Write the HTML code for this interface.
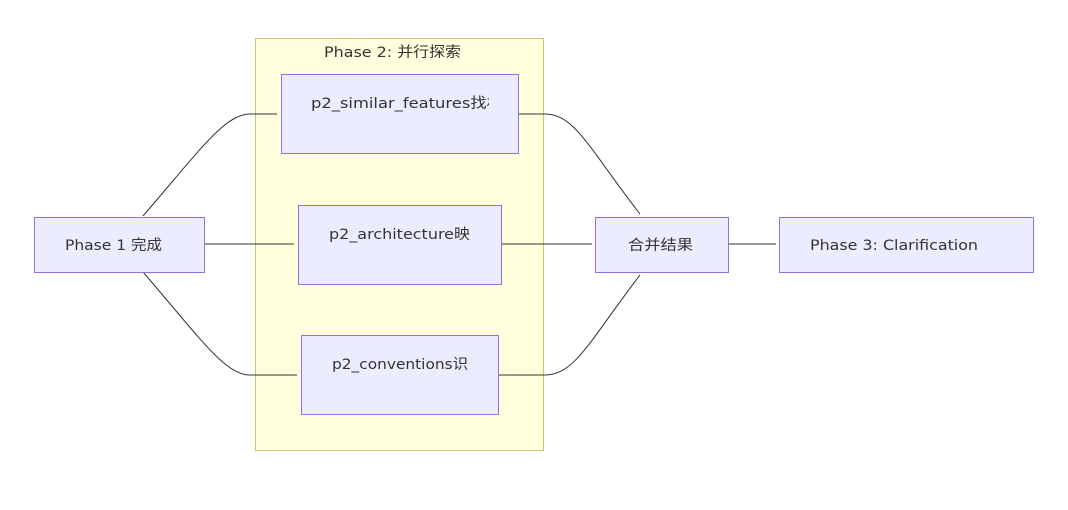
<!DOCTYPE html>
<html><head><meta charset="utf-8"><style>
body{margin:0;background:#fff;width:1068px;height:510px;overflow:hidden;}
</style></head><body>
<svg width="1068" height="510" xmlns="http://www.w3.org/2000/svg" style="position:absolute;left:0;top:0">
<defs><clipPath id="c1"><rect x="282" y="80" width="207" height="40"/></clipPath></defs>
<rect x="255.5" y="38.5" width="288" height="412" fill="#ffffde" stroke="#c9c86a"/>
<g font-size="14.5" fill="#333" font-family="DejaVu Sans, Noto Sans CJK SC, sans-serif" lengthAdjust="spacingAndGlyphs">
<text x="324" y="57" textLength="137" lengthAdjust="spacingAndGlyphs">Phase 2: 并行探索</text>
</g>
<g fill="none" stroke="#333" stroke-width="1">
<path d="M143 216 C200 150 225 114 250 114 L277 114"/>
<path d="M204 244 L294 244"/>
<path d="M143 272 C200 338 225 375 250 375 L297 375"/>
<path d="M518 114 L545 114 C575 114 590 150 640 214"/>
<path d="M501 244 L592 244"/>
<path d="M498 375 L545 375 C575 375 590 340 640 275"/>
<path d="M728 244 L776 244"/>
</g>
<g fill="#ececff" stroke="#9370db" stroke-width="1">
<rect x="34.5" y="217.5" width="170" height="55"/>
<rect x="281.5" y="74.5" width="237" height="79"/>
<rect x="298.5" y="205.5" width="203" height="79"/>
<rect x="301.5" y="335.5" width="197" height="79"/>
<rect x="595.5" y="217.5" width="133" height="55"/>
<rect x="779.5" y="217.5" width="254" height="55"/>
</g>
<g font-size="14.5" fill="#333" font-family="DejaVu Sans, Noto Sans CJK SC, sans-serif">
<text x="65" y="250" textLength="97" lengthAdjust="spacingAndGlyphs">Phase 1 完成</text>
<text x="311" y="108" clip-path="url(#c1)" textLength="192" lengthAdjust="spacingAndGlyphs">p2_similar_features找相</text>
<text x="329" y="239" textLength="141" lengthAdjust="spacingAndGlyphs">p2_architecture映</text>
<text x="332" y="369" textLength="136" lengthAdjust="spacingAndGlyphs">p2_conventions识</text>
<text x="628" y="250" textLength="65" lengthAdjust="spacingAndGlyphs">合并结果</text>
<text x="810" y="250" textLength="168" lengthAdjust="spacingAndGlyphs">Phase 3: Clarification</text>
</g>
</svg>
</body></html>
